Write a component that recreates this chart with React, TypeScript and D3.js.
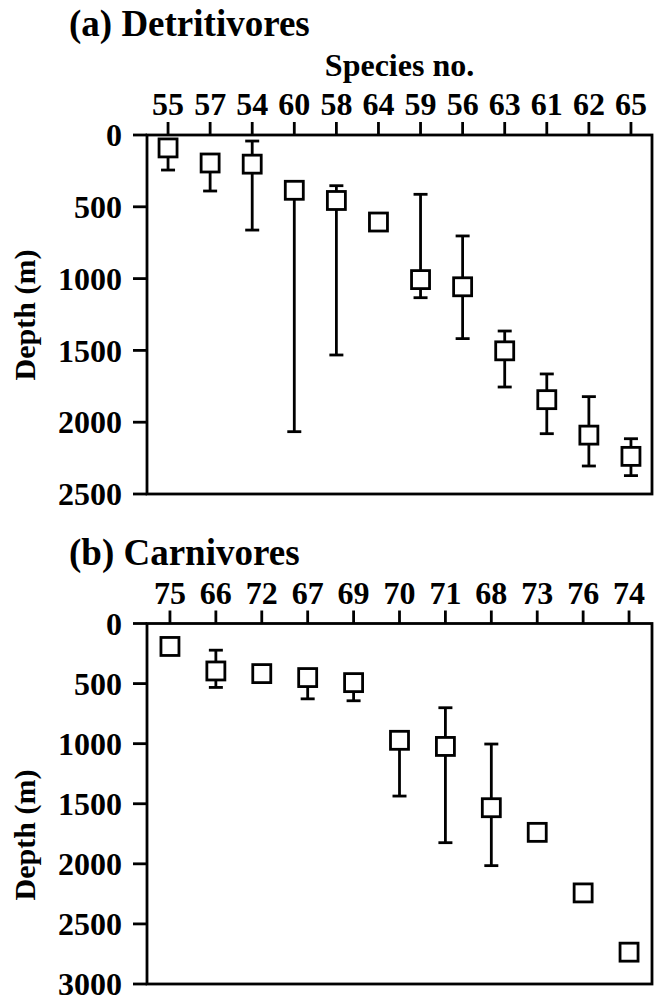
import { useEffect } from "react"
import * as d3 from "d3"

// (a) Detritivores
const detritSpecies = ["55", "57", "54", "60", "58", "64", "59", "56", "63", "61", "62", "65"]
const detritMean = [90, 195, 203, 385, 456, 606, 1007, 1057, 1503, 1843, 2090, 2238]
const detritUpper = [null, null, 42, null, 353, null, 413, 703, 1365, 1664, 1822, 2115]
const detritLower = [244, 390, 662, 2066, 1532, null, 1133, 1418, 1755, 2080, 2305, 2372]
const detritTicks = [0, 500, 1000, 1500, 2000, 2500]

// (b) Carnivores
const carnSpecies = ["75", "66", "72", "67", "69", "70", "71", "68", "73", "76", "74"]
const carnMean = [191, 395, 417, 450, 492, 972, 1023, 1533, 1738, 2242, 2735]
const carnUpper = [null, 222, null, null, null, null, 701, 1003, null, null, null]
const carnLower = [null, 532, null, 627, 643, 1436, 1824, 2015, null, null, null]
const carnTicks = [0, 500, 1000, 1500, 2000, 2500, 3000]

const FONT = "'Liberation Serif', 'Times New Roman', serif"
const STROKE = 2.8
const BOX = 18
const CAP = 14

type PanelProps = {
  title: string
  species: string[]
  mean: number[]
  upper: (number | null)[]
  lower: (number | null)[]
  ticks: number[]
  top: number
  bottom: number
  titleY: number
  labelY: number
  showSpecies: boolean
}

function Panel(p: PanelProps) {
  const left = 147
  const right = 652
  const x = d3.scaleBand<string>().domain(p.species).range([left, right]).padding(0)
  const y = d3
    .scaleLinear()
    .domain([0, p.ticks[p.ticks.length - 1]])
    .range([p.top, p.bottom])
  const cx = (s: string) => (x(s) as number) + x.bandwidth() / 2

  return (
    <g>
      <text x={69} y={p.titleY} fontSize={37} fontWeight="bold" fontFamily={FONT}>
        {p.title}
      </text>
      {p.showSpecies && (
        <text
          x={(left + right) / 2}
          y={p.top - 59}
          fontSize={32}
          fontWeight="bold"
          fontFamily={FONT}
          textAnchor="middle"
        >
          Species no.
        </text>
      )}
      {/* top axis ticks + labels */}
      {p.species.map((s) => (
        <g key={s}>
          <line x1={cx(s)} x2={cx(s)} y1={p.top - 13} y2={p.top} stroke="#000" strokeWidth={STROKE} />
          <text
            x={cx(s)}
            y={p.top - 20}
            fontSize={32}
            fontWeight="bold"
            fontFamily={FONT}
            textAnchor="middle"
          >
            {s}
          </text>
        </g>
      ))}
      {/* left axis ticks + labels */}
      {p.ticks.map((t) => (
        <g key={t}>
          <line x1={left - 14} x2={left} y1={y(t)} y2={y(t)} stroke="#000" strokeWidth={STROKE} />
          <text
            x={122}
            y={y(t)}
            dy="0.35em"
            fontSize={32}
            fontWeight="bold"
            fontFamily={FONT}
            textAnchor="end"
          >
            {t}
          </text>
        </g>
      ))}
      <text
        transform={`translate(35,${p.labelY}) rotate(-90)`}
        fontSize={30}
        fontWeight="bold"
        fontFamily={FONT}
        textAnchor="middle"
      >
        Depth (m)
      </text>
      <rect
        x={left}
        y={p.top}
        width={right - left}
        height={p.bottom - p.top}
        fill="none"
        stroke="#000"
        strokeWidth={STROKE}
      />
      {/* error bars */}
      {p.species.map((s, i) => {
        const m = y(p.mean[i])
        const u = p.upper[i]
        const l = p.lower[i]
        return (
          <g key={"e" + s} stroke="#000" strokeWidth={STROKE}>
            {u !== null && (
              <>
                <line x1={cx(s)} x2={cx(s)} y1={m} y2={y(u)} />
                <line x1={cx(s) - CAP / 2} x2={cx(s) + CAP / 2} y1={y(u)} y2={y(u)} />
              </>
            )}
            {l !== null && (
              <>
                <line x1={cx(s)} x2={cx(s)} y1={m} y2={y(l)} />
                <line x1={cx(s) - CAP / 2} x2={cx(s) + CAP / 2} y1={y(l)} y2={y(l)} />
              </>
            )}
          </g>
        )
      })}
      {/* mean squares */}
      {p.species.map((s, i) => (
        <rect
          key={"b" + s}
          x={cx(s) - BOX / 2}
          y={y(p.mean[i]) - BOX / 2}
          width={BOX}
          height={BOX}
          fill="#fff"
          stroke="#000"
          strokeWidth={STROKE}
        />
      ))}
    </g>
  )
}

export default function App() {
  useEffect(() => {
    document.body.style.margin = "0"
  }, [])
  return (
    <svg width={654} height={1001} style={{ display: "block", background: "#fff" }}>
      <Panel
        title="(a) Detritivores"
        species={detritSpecies}
        mean={detritMean}
        upper={detritUpper}
        lower={detritLower}
        ticks={detritTicks}
        top={135}
        bottom={494}
        titleY={36}
        labelY={315}
        showSpecies={true}
      />
      <Panel
        title="(b) Carnivores"
        species={carnSpecies}
        mean={carnMean}
        upper={carnUpper}
        lower={carnLower}
        ticks={carnTicks}
        top={623.5}
        bottom={984}
        titleY={565}
        labelY={835}
        showSpecies={false}
      />
    </svg>
  )
}
